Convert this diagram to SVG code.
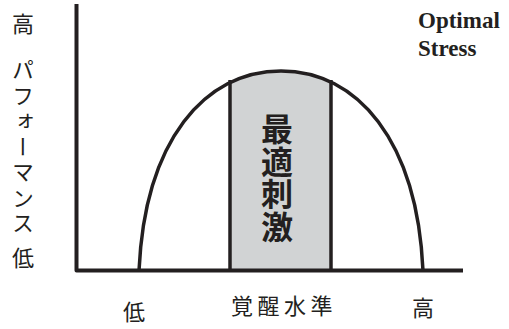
<svg xmlns="http://www.w3.org/2000/svg" width="509" height="329" viewBox="0 0 509 329">
<style>
.ax{fill:none;stroke:#231f20;stroke-width:4;stroke-linejoin:round}
.ln{fill:none;stroke:#231f20;stroke-width:3.5}
.jp{font-family:"Noto Sans CJK JP","Noto Sans",sans-serif;font-size:22px;fill:#231f20}
.big{font-family:"Noto Sans CJK JP","Noto Sans",sans-serif;font-size:32px;font-weight:700;fill:#231f20;writing-mode:vertical-rl;letter-spacing:0.5px}
.en{font-family:"Liberation Serif",serif;font-size:23px;font-weight:700;fill:#231f20}
</style>
<defs>
<clipPath id="band"><rect x="230" y="0" width="101" height="270"/></clipPath>
</defs>
<rect width="509" height="329" fill="#fff"/>
<g id="optimal-zone">
<path d="M139,270.5 C145,140 205,71 281,71 C357,71 417,140 423,270.5 Z" fill="#d1d3d4" clip-path="url(#band)"/>
<line class="ln" x1="230" y1="80" x2="230" y2="270"/>
<line class="ln" x1="331" y1="80" x2="331" y2="270"/>
<text class="big" x="277" y="113">最適刺激</text>
</g>
<g id="curve">
<path class="ln" d="M139,270.5 C145,140 205,71 281,71 C357,71 417,140 423,270.5"/>
</g>
<g id="axes">
<path class="ax" d="M76.5,4 V270.5 H463"/>
</g>
<g id="labels">
<text class="jp" x="12" y="32">高</text>
<text class="jp" x="23" y="59" style="writing-mode:vertical-rl;letter-spacing:3.5px">パフォーマンス</text>
<text class="jp" x="12" y="266">低</text>
<text class="jp" x="123" y="320">低</text>
<text class="jp" x="231" y="314" style="letter-spacing:4.5px">覚醒水準</text>
<text class="jp" x="412" y="316">高</text>
<text class="en" x="418" y="28">Optimal</text>
<text class="en" x="418" y="56">Stress</text>
</g>
</svg>
